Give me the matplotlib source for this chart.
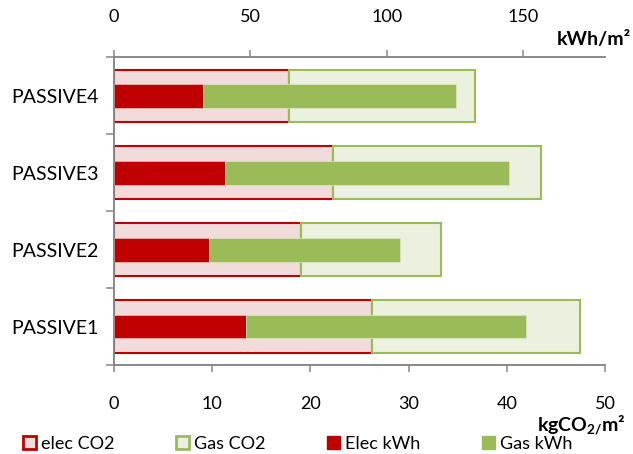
import matplotlib.pyplot as plt
from matplotlib.patches import Patch

plt.rcParams['font.family'] = ['Lato', 'DejaVu Sans']
plt.rcParams['mathtext.fontset'] = 'custom'
plt.rcParams['mathtext.rm'] = 'Lato'
plt.rcParams['mathtext.bf'] = 'Lato:bold'
plt.rcParams['mathtext.default'] = 'bf'

# data
cases = ['PASSIVE1', 'PASSIVE2', 'PASSIVE3', 'PASSIVE4']
elec_co2 = [26.3, 19.0, 22.3, 17.8]
gas_co2 = [21.1, 14.3, 21.2, 19.0]
elec_kwh = [48.4, 34.7, 40.7, 32.6]
gas_kwh = [102.7, 70.2, 104.0, 92.7]

red = '#C00000'
green = '#9BBB59'
pink = '#F2DCDB'
pale_green = '#EBF1DE'
axis_grey = '#868686'
fs = 13

fig = plt.figure(figsize=(6.33, 4.54), dpi=100)
ax = fig.add_axes([0.180, 0.196, 0.776, 0.678])
ax2 = ax.twiny()

y = list(range(len(cases)))

# wide bars: CO2 on bottom axis
ax.barh(y, elec_co2, height=0.68, color=pink, edgecolor=red, linewidth=1.5)
ax.barh(y, gas_co2, left=elec_co2, height=0.68, color=pale_green,
        edgecolor=green, linewidth=1.5)

# narrow bars: energy on top axis
ax2.barh(y, elec_kwh, height=0.31, color=red, edgecolor='#e8b0b0', linewidth=0.6)
ax2.barh(y, gas_kwh, left=elec_kwh, height=0.31, color=green,
         edgecolor='#d6e4bd', linewidth=0.6)

ax.set_xlim(0, 50)
ax.set_xticks([0, 10, 20, 30, 40, 50])
ax2.set_xlim(0, 180)
ax2.set_xticks([0, 50, 100, 150])
ax.set_ylim(-0.5, len(cases) - 0.5)

ax.set_yticks(y)
ax.set_yticklabels(cases)
ax.set_yticks([i - 0.5 for i in range(len(cases) + 1)], minor=True)
ax.tick_params(axis='y', which='major', length=0, pad=11, labelsize=14)
ax.tick_params(axis='y', which='minor', length=6, width=1.1, color=axis_grey)
ax.tick_params(axis='x', length=5, width=1.1, color=axis_grey, pad=17, labelsize=fs)
ax2.tick_params(axis='x', length=5, width=1.1, color=axis_grey, pad=18, labelsize=fs)

for a in (ax, ax2):
    a.spines['right'].set_visible(False)
    for s in ('left', 'top', 'bottom'):
        a.spines[s].set_color(axis_grey)
        a.spines[s].set_linewidth(1.1)

fig.text(0.997, 0.914, 'kWh/m²', ha='right', va='center', fontsize=14, fontweight='bold')
fig.text(0.988, 0.064, r'kgCO$_{2/}$m²', ha='right', va='center', fontsize=14,
         fontweight='bold')

handles = [
    Patch(facecolor=pink, edgecolor=red, linewidth=2, label='elec CO2'),
    Patch(facecolor=pale_green, edgecolor=green, linewidth=2, label='Gas CO2'),
    Patch(facecolor=red, edgecolor=red, label='Elec kWh'),
    Patch(facecolor=green, edgecolor=green, label='Gas kWh'),
]
fig.legend(handles=handles, loc='center left', bbox_to_anchor=(0.037, 0.022),
           ncol=4, frameon=False, fontsize=fs, handlelength=0.7, handleheight=0.7,
           handletextpad=0.3, columnspacing=3.4, borderaxespad=0, borderpad=0)

fig.savefig('out.png', dpi=100)
